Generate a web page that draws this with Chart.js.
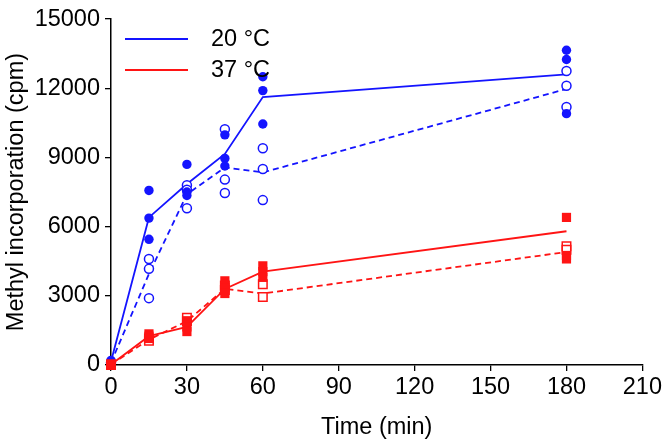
<!DOCTYPE html>
<html>
<head>
<meta charset="utf-8">
<script src="https://cdn.jsdelivr.net/npm/chart.js@4"></script>
<style>
  body { margin: 0; background: #fff; }
  #wrap { width: 664px; height: 442px; }
</style>
</head>
<body>
<div id="wrap"><canvas id="myChart" width="664" height="442"></canvas></div>
<script>
// sampling times (min)
const times = [0, 15, 30, 45, 60, 180];
const xTicks = [0, 30, 60, 90, 120, 150, 180, 210];
const yTicks = [0, 3000, 6000, 9000, 12000, 15000];

// 20 °C, filled circles (solid line) and open circles (dashed line)
const warmFilled = [[150, 200, 100], [7570, 6370, 5450], [8700, 7500, 7350], [9980, 8960, 8630], [12500, 11900, 10450], [13650, 13250, 10900]];
const warmOpen = [[100], [4600, 4170, 2900], [7800, 7600, 6800], [10220, 8040, 7460], [9400, 8500, 7150], [12750, 12110, 11190]];
const warmSolid = [150, 6400, 7850, 9150, 11620, 12600];
const warmDashed = [100, 3950, 7400, 8570, 8350, 11970];

// 37 °C, filled squares (solid line) and open squares (dashed line)
const coldFilled = [[20, 0, 40], [1350, 1250, 1150], [1900, 1650, 1450], [3650, 3350, 3100], [4300, 4050, 3800], [6400, 4750, 4600]];
const coldOpen = [[20, 0], [1150, 1050], [2050, 1900], [3450, 3250], [3500, 2950], [5150, 5000]];
const coldSolid = [20, 1250, 1650, 3300, 4050, 5800];
const coldDashed = [20, 1100, 1900, 3300, 3100, 4900];

const BLUE = '#1414ff';
const RED = '#ff1414';

function pts(reps) {
  const out = [];
  reps.forEach((r, i) => r.forEach(v => out.push({ x: times[i], y: v })));
  return out;
}
function line(vals) {
  return vals.map((v, i) => ({ x: times[i], y: v }));
}

const FONT = "'Liberation Sans', Arial, sans-serif";

const legendPlugin = {
  id: 'insideLegend',
  afterDatasetsDraw(chart) {
    const ctx = chart.ctx;
    const items = [['20 °C', BLUE, 39], ['37 °C', RED, 70]];
    ctx.save();
    ctx.font = '23.5px ' + FONT;
    ctx.textBaseline = 'middle';
    items.forEach(([txt, col, y]) => {
      ctx.strokeStyle = col;
      ctx.lineWidth = 1.8;
      ctx.beginPath();
      ctx.moveTo(125, y);
      ctx.lineTo(188, y);
      ctx.stroke();
      ctx.fillStyle = '#000';
      ctx.fillText(txt, 211, y + 1);
    });
    ctx.restore();
  }
};

const ctx = document.getElementById('myChart').getContext('2d');
new Chart(ctx, {
  type: 'scatter',
  data: {
    datasets: [
      { data: pts(coldFilled), pointStyle: 'rect', pointRadius: 6.5, backgroundColor: RED, borderColor: RED, borderWidth: 0, showLine: false, clip: false, order: 1 },
      { data: pts(coldOpen), pointStyle: 'rect', pointRadius: 6, backgroundColor: '#fff', borderColor: RED, borderWidth: 1.5, showLine: false, clip: false, order: 2 },
      { data: line(coldSolid), showLine: true, pointRadius: 0, borderColor: RED, borderWidth: 1.8, tension: 0, clip: false, order: 3 },
      { data: line(coldDashed), showLine: true, pointRadius: 0, borderColor: RED, borderWidth: 1.8, borderDash: [6, 4], tension: 0, clip: false, order: 4 },
      { data: pts(warmFilled), pointStyle: 'circle', pointRadius: 4.7, backgroundColor: BLUE, borderColor: BLUE, borderWidth: 0, showLine: false, clip: false, order: 5 },
      { data: pts(warmOpen), pointStyle: 'circle', pointRadius: 4.5, backgroundColor: '#fff', borderColor: BLUE, borderWidth: 1.5, showLine: false, clip: false, order: 6 },
      { data: line(warmSolid), showLine: true, pointRadius: 0, borderColor: BLUE, borderWidth: 1.8, tension: 0, clip: false, order: 7 },
      { data: line(warmDashed), showLine: true, pointRadius: 0, borderColor: BLUE, borderWidth: 1.8, borderDash: [6, 4], tension: 0, clip: false, order: 8 }
    ]
  },
  options: {
    responsive: false,
    animation: false,
    layout: { padding: { top: 12, right: 21, left: 0, bottom: 0 } },
    plugins: { legend: { display: false }, tooltip: { enabled: false } },
    scales: {
      x: {
        type: 'linear',
        min: 0, max: 210,
        afterBuildTicks: s => { s.ticks = xTicks.map(v => ({ value: v })); },
        afterFit: s => { s.height = 77; },
        grid: { drawOnChartArea: false, drawTicks: true, tickLength: 6, color: '#000', lineWidth: 1.3 },
        border: { color: '#000', width: 1.5 },
        ticks: { color: '#000', font: { family: FONT, size: 23.5 }, padding: 2, maxRotation: 0, callback: v => String(v) },
        title: { display: true, text: 'Time (min)', color: '#000', font: { family: FONT, size: 23.5 }, padding: { top: 4, bottom: 0 } }
      },
      y: {
        type: 'linear',
        min: 0, max: 15000,
        afterBuildTicks: s => { s.ticks = yTicks.map(v => ({ value: v })); },
        afterFit: s => { s.width = 111; },
        grid: { drawOnChartArea: false, drawTicks: true, tickLength: 6, color: '#000', lineWidth: 1.3 },
        border: { color: '#000', width: 1.5 },
        ticks: { color: '#000', font: { family: FONT, size: 23.5 }, padding: 5, callback: v => String(v) },
        title: { display: true, text: 'Methyl incorporation (cpm)', color: '#000', font: { family: FONT, size: 23.5 }, padding: { top: 2, bottom: 4 } }
      }
    }
  },
  plugins: [legendPlugin]
});
</script>
</body>
</html>
